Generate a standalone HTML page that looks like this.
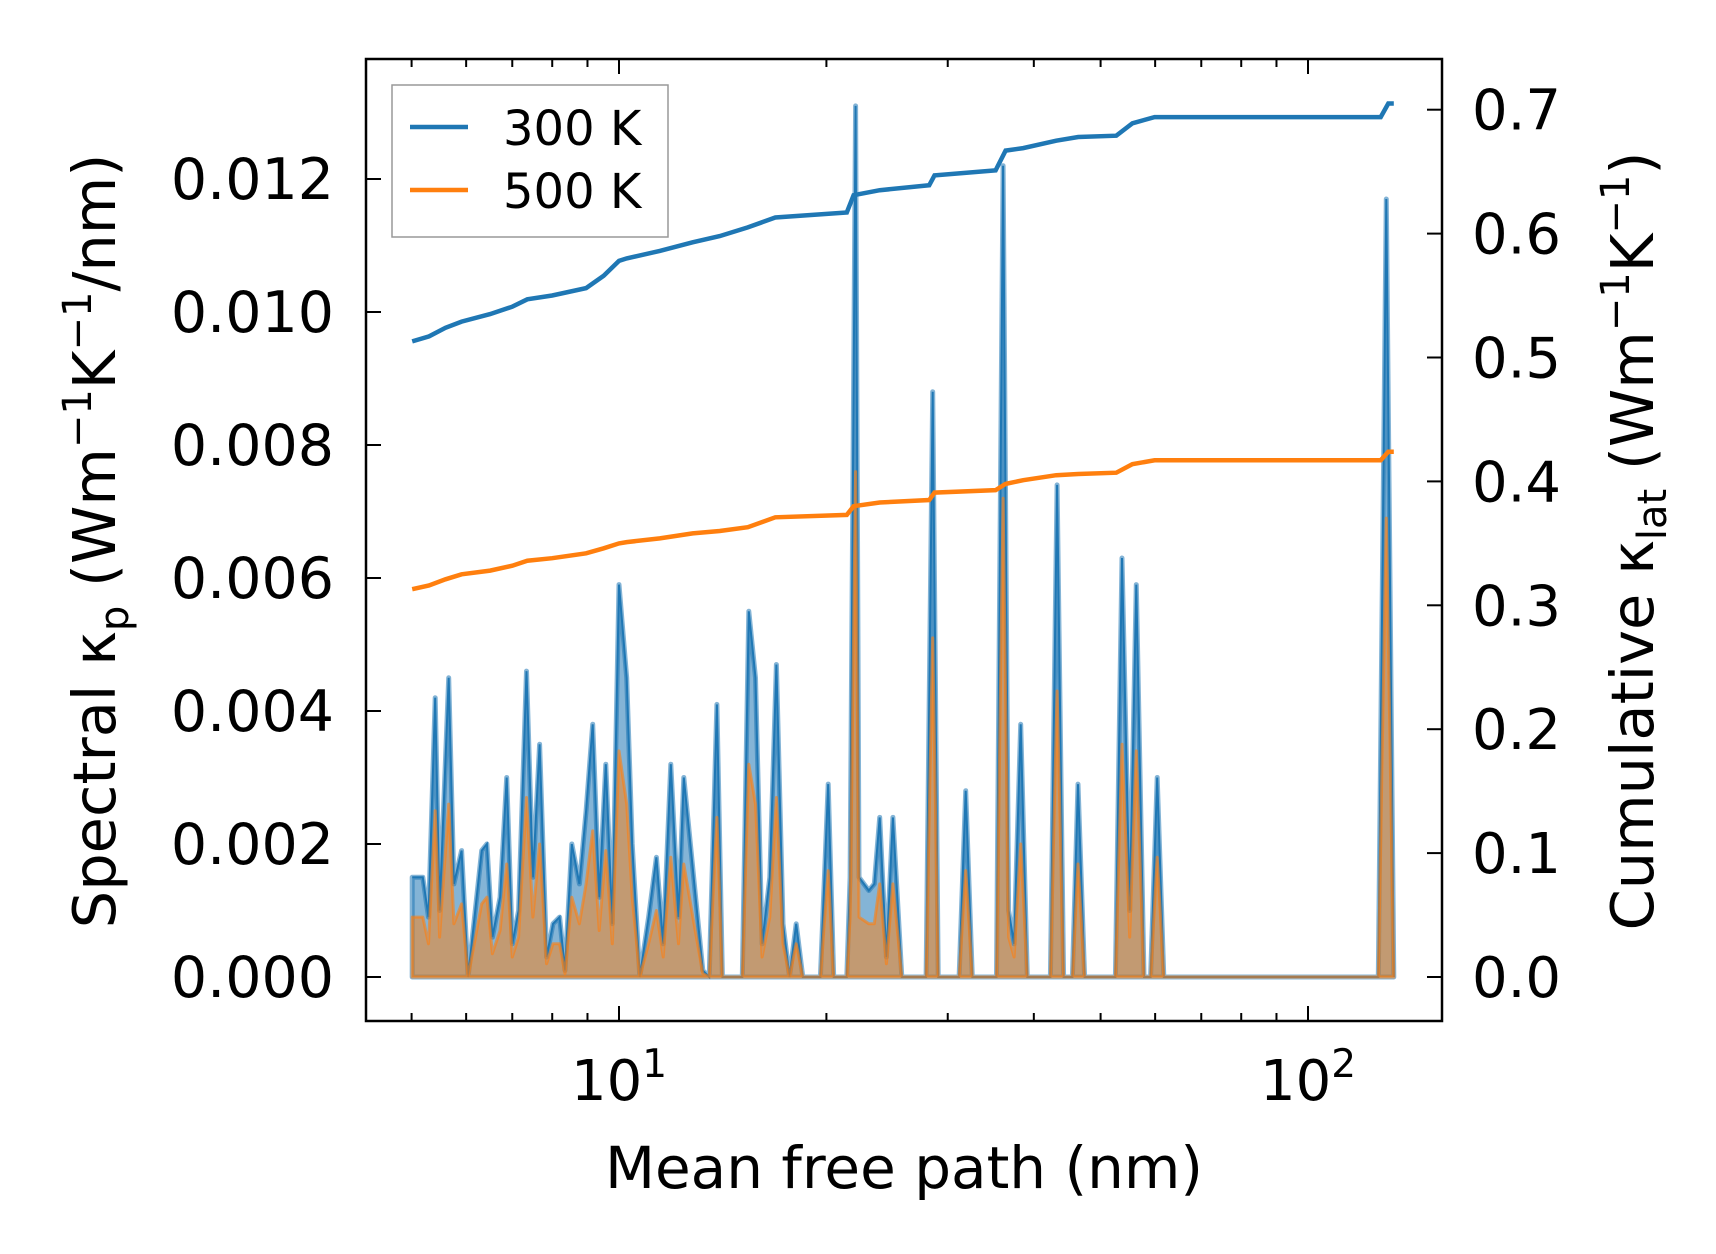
<!DOCTYPE html>
<html><head><meta charset="utf-8"><style>
html,body{margin:0;padding:0;background:#fff;}
svg{display:block;font-family:"DejaVu Sans","Liberation Sans",sans-serif;}
</style></head><body>
<svg id="chart" width="1716" height="1254" viewBox="0 0 1716 1254" xmlns="http://www.w3.org/2000/svg">
<rect width="1716" height="1254" fill="#fff"/>
<g id="plot"></g>
</svg>
<script>
// spectral data (mean free path in nm, kappa_p in 1e-3 units)
const mfp = [5.01,5.19,5.29,5.41,5.49,5.66,5.76,5.91,6.04,6.32,6.43,6.55,6.72,6.87,7.00,7.15,7.34,7.50,7.67,7.85,8.02,8.20,8.35,8.54,8.76,8.96,9.16,9.36,9.57,9.78,10.0,10.26,10.45,10.72,11.04,11.33,11.59,11.89,12.20,12.42,12.75,13.23,13.52,13.87,14.13,15.10,15.43,15.78,16.13,16.55,16.92,17.30,17.68,18.08,18.48,19.60,20.12,20.49,21.41,21.65,22.05,22.30,23.04,23.47,23.90,24.44,24.98,25.73,27.91,28.53,29.06,31.16,31.86,32.57,35.31,36.10,36.77,37.45,38.29,39.14,42.28,43.23,44.19,45.51,46.36,47.40,52.54,53.70,55.11,56.34,57.81,59.10,60.42,61.76,126.5,129.9,133.2];
const spec300 = [1.5,1.5,0.9,4.2,1.0,4.5,1.4,1.9,0,1.9,2.0,0.6,1.2,3.0,0.5,1.0,4.6,1.5,3.5,0.3,0.8,0.9,0.1,2.0,1.4,2.5,3.8,1.2,3.2,0.8,5.9,4.5,2.0,0,0.9,1.8,0.5,3.2,0.9,3.0,1.8,0.1,0,4.1,0,0,5.5,4.5,0.5,1.5,4.7,0.8,0,0.8,0,0,2.9,0,0,1.5,13.1,1.5,1.3,1.4,2.4,0.3,2.4,0,0,8.8,0,0,2.8,0,0,12.2,1.0,0.5,3.8,0,0,7.4,0,0,2.9,0,0,6.3,1.0,5.9,0,0,3.0,0,0,11.7,0];
const spec500 = [0.9,0.9,0.5,2.5,0.6,2.6,0.8,1.1,0,1.1,1.2,0.35,0.7,1.7,0.3,0.6,2.7,0.9,2.0,0.2,0.5,0.5,0.05,1.2,0.8,1.4,2.2,0.7,1.9,0.5,3.4,2.6,1.2,0,0.5,1.0,0.3,1.8,0.5,1.7,1.0,0.05,0,2.4,0,0,3.2,2.6,0.3,0.9,2.7,0.5,0,0.5,0,0,1.6,0,0,0.9,7.6,0.9,0.8,0.8,1.4,0.2,1.4,0,0,5.1,0,0,1.6,0,0,7.2,0.6,0.3,2.0,0,0,4.3,0,0,1.7,0,0,3.5,0.6,3.4,0,0,1.8,0,0,6.9,0];
// cumulative data
const cumX = [5.01,5.3,5.6,5.91,6.5,7.0,7.36,8.0,8.96,9.5,10.0,10.26,11.46,12.79,14.0,15.38,16.86,21.41,21.9,23.9,28.2,28.7,35.2,36.4,38.6,43.1,46.4,52.7,55.6,59.9,127.5,130.8,133.2];
const cum300 = [0.513,0.517,0.524,0.529,0.535,0.541,0.547,0.550,0.556,0.566,0.578,0.580,0.586,0.593,0.598,0.605,0.613,0.617,0.631,0.635,0.639,0.647,0.651,0.667,0.669,0.675,0.678,0.679,0.689,0.694,0.694,0.705,0.705];
const cum500 = [0.313,0.316,0.321,0.325,0.328,0.332,0.336,0.338,0.342,0.346,0.350,0.351,0.354,0.358,0.360,0.363,0.371,0.373,0.380,0.383,0.385,0.391,0.393,0.398,0.401,0.405,0.406,0.407,0.414,0.417,0.417,0.424,0.424];
const leftTicks = [0,2,4,6,8,10,12];
const leftLabels = ["0.000","0.002","0.004","0.006","0.008","0.010","0.012"];
const rightTicks = [0,0.1,0.2,0.3,0.4,0.5,0.6,0.7];
const rightLabels = ["0.0","0.1","0.2","0.3","0.4","0.5","0.6","0.7"];

const L=366,R=1442,T=59,B=1021;
const X = v => 619 + 689*Math.log10(v/10);
const YL = v => 977 - v*66.5;
const YR = v => 977 - v*1239;
const NS="http://www.w3.org/2000/svg";
const g=document.getElementById('plot');
function mk(tag,attrs,parent){const e=document.createElementNS(NS,tag);for(const k in attrs)e.setAttribute(k,attrs[k]);(parent||g).appendChild(e);return e;}

function areaPath(xs,ys,yf){let d='M'+X(xs[0])+','+yf(0);xs.forEach((x,i)=>d+=' L'+X(x).toFixed(1)+','+yf(ys[i]).toFixed(1));d+=' L'+X(xs[xs.length-1])+','+yf(0)+' Z';return d;}
function linePath(xs,ys,yf){return xs.map((x,i)=>(i?'L':'M')+X(x).toFixed(1)+','+yf(ys[i]).toFixed(1)).join(' ');}

let e;
e=mk('path',{d:areaPath(mfp,spec300,YL),fill:'#1f77b4','fill-opacity':0.55,stroke:'#1f77b4','stroke-opacity':0.55,'stroke-width':5,'stroke-linejoin':'round'});


e=mk('path',{d:linePath(mfp,spec300,YL),fill:'none',stroke:'#1f77b4','stroke-width':2});


e=mk('path',{d:areaPath(mfp,spec500,YL),fill:'#ff7f0e','fill-opacity':0.5,stroke:'#ff7f0e','stroke-opacity':0.6,'stroke-width':3,'stroke-linejoin':'round'});


e=mk('path',{d:linePath(cumX,cum300,YR),fill:'none',stroke:'#1f77b4','stroke-width':4.5});


e=mk('path',{d:linePath(cumX,cum500,YR),fill:'none',stroke:'#ff7f0e','stroke-width':4.5});



e=mk('rect',{x:L,y:T,width:R-L,height:B-T,fill:'none',stroke:'#000','stroke-width':2.5});



const ticksG=mk('g',{stroke:'#000','stroke-width':2});


[10,100].forEach(v=>{const x=X(v);mk('line',{x1:x,x2:x,y1:B,y2:B-15},ticksG);mk('line',{x1:x,x2:x,y1:T,y2:T+15},ticksG);});
[5,6,7,8,9,20,30,40,50,60,70,80,90].forEach(v=>{const x=X(v);mk('line',{x1:x,x2:x,y1:B,y2:B-8},ticksG);mk('line',{x1:x,x2:x,y1:T,y2:T+8},ticksG);});
leftTicks.forEach((v,i)=>{const y=YL(v);mk('line',{x1:L,x2:L+15,y1:y,y2:y},ticksG);
 e=mk('text',{x:334,y:y+20,'text-anchor':'end','font-size':57,fill:'#000',stroke:'none'});e.textContent=leftLabels[i];
 
 });
rightTicks.forEach((v,i)=>{const y=YR(v);mk('line',{x1:R,x2:R-15,y1:y,y2:y},ticksG);
 e=mk('text',{x:1472,y:y+20,'text-anchor':'start','font-size':56,fill:'#000',stroke:'none'});e.textContent=rightLabels[i];
 
 });
[[10,'1'],[100,'2']].forEach(([v,p])=>{
 e=mk('text',{x:X(v),y:1100,'text-anchor':'middle','font-size':56,fill:'#000'});
 e.innerHTML='10<tspan dy="-23" font-size="39">'+p+'</tspan>';
 
 });
</script>
<svg style="position:absolute;left:0;top:0" width="1716" height="1254">
<text x="904" y="1188" text-anchor="middle" font-size="58" font-family="DejaVu Sans, Liberation Sans, sans-serif">Mean free path (nm)</text>
<text transform="translate(115,541) rotate(-90)" text-anchor="middle" font-size="59" font-family="DejaVu Sans, Liberation Sans, sans-serif">Spectral κ<tspan font-size="40" dy="13">p</tspan><tspan dy="-13"> (Wm</tspan><tspan font-size="40" dy="-24">−1</tspan><tspan dy="24">K</tspan><tspan font-size="40" dy="-24">−1</tspan><tspan dy="24">/nm)</tspan></text>
<text transform="translate(1653,541) rotate(-90)" text-anchor="middle" font-size="59" font-family="DejaVu Sans, Liberation Sans, sans-serif">Cumulative κ<tspan font-size="40" dy="13">lat</tspan><tspan dy="-13"> (Wm</tspan><tspan font-size="40" dy="-24">−1</tspan><tspan dy="24">K</tspan><tspan font-size="40" dy="-24">−1</tspan><tspan dy="24">)</tspan></text>
<g>
<rect x="392" y="85" width="276" height="152" fill="#fff" fill-opacity="0.85" stroke="#999" stroke-width="1.5"/>
<line x1="410" y1="127" x2="468" y2="127" stroke="#1f77b4" stroke-width="4.5"/>
<text x="503" y="145" font-size="48">300 K</text>
<line x1="410" y1="190" x2="468" y2="190" stroke="#ff7f0e" stroke-width="4.5"/>
<text x="503" y="208" font-size="48">500 K</text>
</g>
</svg>
</body></html>
